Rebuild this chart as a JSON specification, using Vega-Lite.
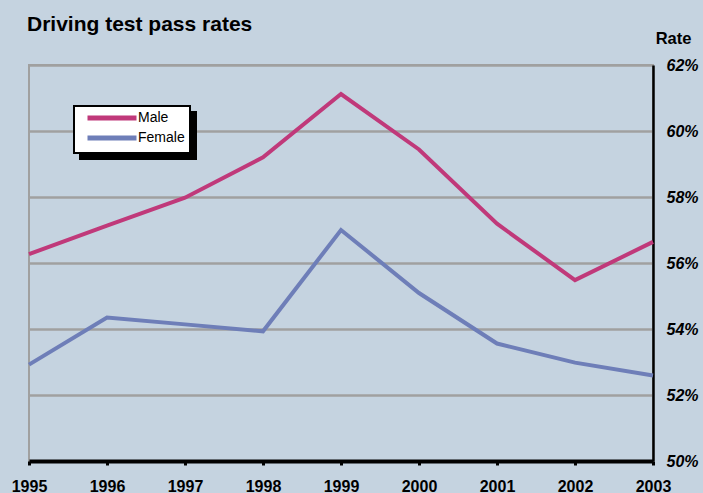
{
  "$schema": "https://vega.github.io/schema/vega-lite/v6.json",
  "width": 624,
  "height": 396,
  "autosize": {"type": "none"},
  "padding": {"left": 29, "top": 65, "right": 50, "bottom": 32},
  "background": "#c5d3e0",
  "title": {
    "text": "Driving test pass rates",
    "anchor": "start",
    "frame": "group",
    "font": "Liberation Sans",
    "fontSize": 21,
    "fontWeight": "bold",
    "color": "#000000",
    "offset": -5,
    "dx": -2
  },
  "config": {
    "view": {"stroke": "#a0a0a0", "strokeWidth": 2},
    "font": "Liberation Sans",
    "legend": {"strokeWidth": 2}
  },
  "data": {
    "values": [
      {"year": 1995, "series": "Male", "rate": 56.27},
      {"year": 1996, "series": "Male", "rate": 57.13},
      {"year": 1997, "series": "Male", "rate": 57.98},
      {"year": 1998, "series": "Male", "rate": 59.2},
      {"year": 1999, "series": "Male", "rate": 61.12},
      {"year": 2000, "series": "Male", "rate": 59.44},
      {"year": 2001, "series": "Male", "rate": 57.19},
      {"year": 2002, "series": "Male", "rate": 55.48},
      {"year": 2003, "series": "Male", "rate": 56.64},
      {"year": 1995, "series": "Female", "rate": 52.92},
      {"year": 1996, "series": "Female", "rate": 54.35},
      {"year": 1997, "series": "Female", "rate": 54.14},
      {"year": 1998, "series": "Female", "rate": 53.93},
      {"year": 1999, "series": "Female", "rate": 57.0},
      {"year": 2000, "series": "Female", "rate": 55.09},
      {"year": 2001, "series": "Female", "rate": 53.56},
      {"year": 2002, "series": "Female", "rate": 52.98},
      {"year": 2003, "series": "Female", "rate": 52.59}
    ]
  },
  "encoding": {
    "x": {
      "field": "year",
      "type": "quantitative",
      "scale": {"domain": [1995, 2003], "nice": false, "zero": false},
      "axis": {
        "title": null,
        "values": [1995, 1996, 1997, 1998, 1999, 2000, 2001, 2002, 2003],
        "format": "d",
        "grid": false,
        "domainColor": "#000000",
        "domainWidth": 4,
        "tickColor": "#000000",
        "tickWidth": 3,
        "tickSize": 4,
        "labelFont": "Liberation Sans",
        "labelFontSize": 16,
        "labelFontWeight": "bold",
        "labelColor": "#000000",
        "labelPadding": 13,
        "labelFlush": false
      }
    },
    "y": {
      "field": "rate",
      "type": "quantitative",
      "scale": {"domain": [50, 62], "nice": false, "zero": false},
      "axis": {
        "orient": "right",
        "values": [50, 52, 54, 56, 58, 60, 62],
        "labelExpr": "datum.value + '%'",
        "title": "Rate",
        "titleAngle": 0,
        "titleAlign": "center",
        "titleBaseline": "alphabetic",
        "titleX": 20,
        "titleY": -22,
        "titleFont": "Liberation Sans",
        "titleFontSize": 16.5,
        "titleFontWeight": "bold",
        "titleColor": "#000000",
        "grid": true,
        "gridColor": "#a0a0a0",
        "gridWidth": 2.5,
        "gridOpacity": 1,
        "domainColor": "#000000",
        "domainWidth": 2.5,
        "ticks": false,
        "labelPadding": 13,
        "labelFont": "Liberation Sans",
        "labelFontSize": 16,
        "labelFontWeight": "bold",
        "labelFontStyle": "italic",
        "labelColor": "#000000"
      }
    }
  },
  "layer": [
    {
      "mark": {"type": "line", "opacity": 0},
      "encoding": {
        "color": {
          "field": "series",
          "type": "nominal",
          "scale": {"domain": ["Female", "Male"], "range": ["#000000", "#000000"]},
          "legend": {
            "title": null,
            "orient": "none",
            "legendX": 51,
            "legendY": 47,
            "fillColor": "#000000",
            "strokeColor": "#000000",
            "padding": 5,
            "symbolType": "M-5.444,0H5.444",
            "symbolSize": 81,
            "symbolStrokeWidth": 5,
            "symbolOffset": 26,
            "labelFont": "Liberation Sans",
            "labelFontSize": 14,
            "labelColor": "#000000",
            "labelOpacity": 0,
            "labelOffset": 19,
            "rowPadding": 0
          }
        }
      }
    },
    {
      "mark": {"type": "line", "strokeWidth": 4, "strokeJoin": "miter"},
      "encoding": {
        "stroke": {
          "field": "series",
          "type": "nominal",
          "scale": {"domain": ["Male", "Female"], "range": ["#c0397a", "#6e7eb8"]},
          "legend": {
            "title": null,
            "orient": "none",
            "legendX": 45,
            "legendY": 41,
            "fillColor": "#ffffff",
            "strokeColor": "#000000",
            "padding": 5,
            "symbolType": "M-5.444,0H5.444",
            "symbolSize": 81,
            "symbolStrokeWidth": 5,
            "symbolOffset": 26,
            "labelFont": "Liberation Sans",
            "labelFontSize": 14,
            "labelColor": "#000000",
            "labelOffset": 19,
            "rowPadding": 0
          }
        }
      }
    }
  ]
}
